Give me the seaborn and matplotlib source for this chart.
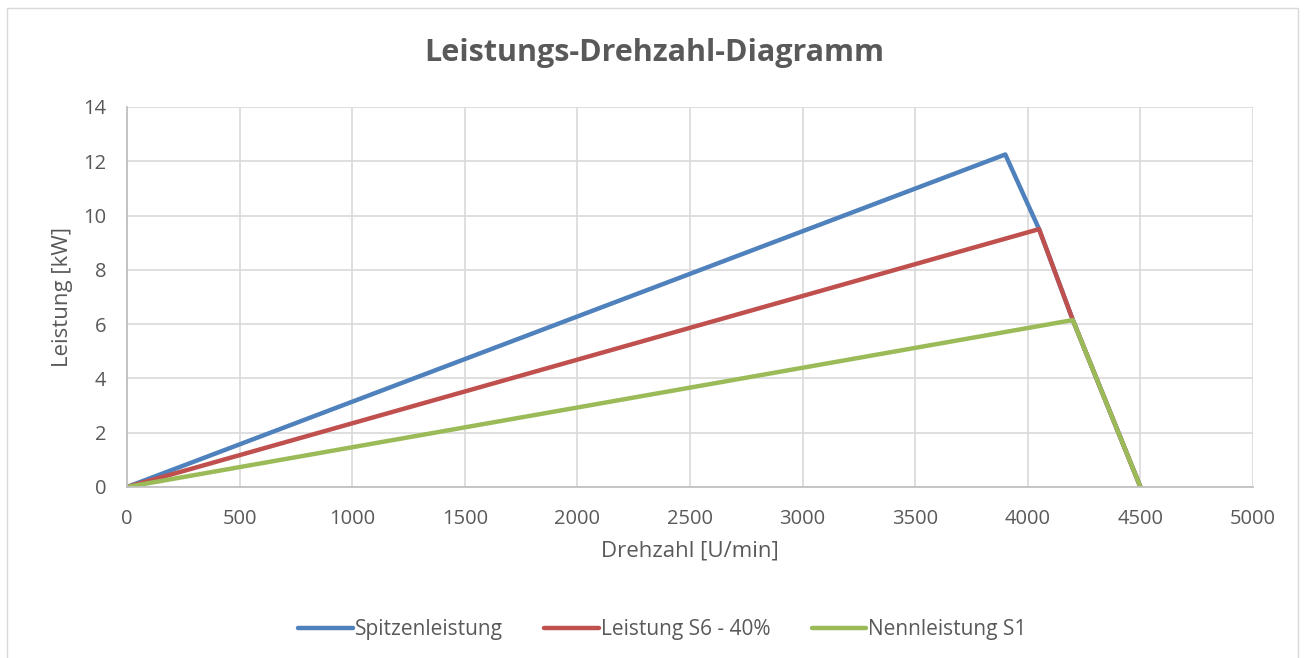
import matplotlib
matplotlib.use("Agg")
import matplotlib.pyplot as plt
import seaborn as sns
import pandas as pd

# data
series = ['Spitzenleistung', 'Leistung S6 - 40%', 'Nennleistung S1']
drehzahl_spitze = [0, 3900, 4050, 4200, 4500]
leistung_spitze = [0, 12.25, 9.5, 6.15, 0]
drehzahl_s6 = [0, 4050, 4200, 4500]
leistung_s6 = [0, 9.5, 6.15, 0]
drehzahl_s1 = [0, 4200, 4500]
leistung_s1 = [0, 6.15, 0]
colors = ['#4F81BD', '#C0504D', '#9BBB59']

rows = []
for name, xs, ys in zip(series, [drehzahl_spitze, drehzahl_s6, drehzahl_s1],
                        [leistung_spitze, leistung_s6, leistung_s1]):
    for x, y in zip(xs, ys):
        rows.append({'Drehzahl': x, 'Leistung': y, 'Serie': name})
df = pd.DataFrame(rows)

sns.set_theme(style='white')
plt.rcParams['font.family'] = ['Open Sans', 'DejaVu Sans']

fig = plt.figure(figsize=(13.04, 6.58), dpi=100)
ax = fig.add_axes([0.0974, 0.2599, 0.8635, 0.5775])

sns.lineplot(data=df, x='Drehzahl', y='Leistung', hue='Serie', hue_order=series,
             palette=colors, sort=False, estimator=None, linewidth=3.2,
             ax=ax, legend=True)

ax.set_xlim(0, 5000)
ax.set_ylim(0, 14)
ax.set_xticks(range(0, 5001, 500))
ax.set_yticks(range(0, 15, 2))
ax.grid(True, color='#D9D9D9', linewidth=1.2)
ax.set_axisbelow(True)
for s in ['top', 'right']:
    ax.spines[s].set_visible(False)
for s in ['left', 'bottom']:
    ax.spines[s].set_color('#BFBFBF')
ax.tick_params(axis='both', colors='#595959', labelsize=14.5, length=0)
ax.tick_params(axis='x', pad=16)
ax.tick_params(axis='y', pad=15)

ax.set_xlabel('Drehzahl [U/min]', fontsize=16, color='#595959', labelpad=8)
ax.set_ylabel('Leistung [kW]', fontsize=16, color='#595959', labelpad=7)
fig.text(0.502, 0.92, 'Leistungs-Drehzahl-Diagramm', ha='center', va='center',
         fontsize=22, fontweight='bold', color='#595959')

handles, labels = ax.get_legend_handles_labels()
ax.legend(handles, labels, loc='center', bbox_to_anchor=(0.508, 0.043),
          bbox_transform=fig.transFigure, ncol=3, frameon=False,
          fontsize=15, labelcolor='#595959', handlelength=2.6,
          handletextpad=0.1, columnspacing=2.0)

# chart area border
fig.patches.append(plt.Rectangle((0.0054, -0.01), 0.99, 0.998, transform=fig.transFigure,
                                 fill=False, edgecolor='#D9D9D9', linewidth=1))

fig.savefig('out.png', dpi=100)
